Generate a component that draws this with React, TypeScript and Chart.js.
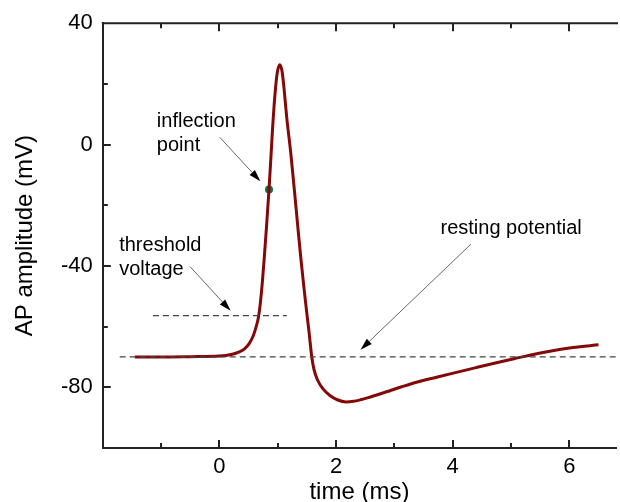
import React, { useEffect, useRef } from 'react';
import { Chart, registerables } from 'chart.js';

Chart.register(...registerables);

// ---- data ----
const timeMs = [
  -1.45, -1.0, -0.5, 0.0, 0.2, 0.33, 0.43, 0.51, 0.58, 0.63, 0.67, 0.70, 0.735, 0.77, 0.81, 0.85,
  0.885, 0.915, 0.95, 0.99, 1.035, 1.075, 1.11, 1.155, 1.22, 1.285, 1.34, 1.395, 1.455, 1.5, 1.54,
  1.58, 1.62, 1.68, 1.78, 1.9, 2.02, 2.17, 2.3, 2.42, 2.55, 2.83, 3.28, 3.74, 4.1, 4.4, 4.75, 5.05,
  5.55, 6.06, 6.5,
];
const apMv = [
  -70.0, -70.0, -69.9, -69.7, -69.2, -68.4, -67.3, -65.6, -63.0, -60.0, -56.8, -52.5, -45.5, -37.0,
  -26.3, -14.8, -3.5, 6.5, 16.0, 23.5, 26.3, 24.0, 18.0, 8.7, -2.2, -15.0, -26.3, -37.3, -48.2,
  -55.8, -62.4, -69.5, -74.0, -77.5, -80.6, -82.8, -84.1, -84.8, -84.6, -84.1, -83.4, -81.7, -78.9,
  -76.6, -74.9, -73.5, -71.9, -70.6, -68.5, -66.9, -66.0,
];
const restingX = [-1.71, 6.8];
const restingY = [-70, -70];
const thresholdX = [-1.14, 1.155];
const thresholdY = [-56.4, -56.4];
const inflectionX = [0.85];
const inflectionY = [-14.8];

const xTickValues = [-2, -1, 0, 1, 2, 3, 4, 5, 6];
const xTickLabels = ['', '', '0', '', '2', '', '4', '', '6'];
const yTickValues = [-100, -80, -60, -40, -20, 0, 20, 40];
const yTickLabels = ['', '-80', '', '-40', '', '0', '', '40'];

const noteTexts = [['inflection', 'point'], ['threshold', 'voltage'], ['resting potential']];
const noteX = [-1.073, -1.719, 3.791];
const noteY = [5.7, -35.06, -29.57];
const arrowFromX = [0.005, -0.505, 4.313];
const arrowFromY = [2.4, -40.2, -32.8];
const arrowToX = [0.702, 0.192, 2.42];
const arrowToY = [-12.1, -54.8, -67.6];

const FONT = '"Liberation Sans", Arial, sans-serif';

const framePlugin = {
  id: 'framePlugin',
  afterDatasetsDraw(chart: any) {
    const { ctx, chartArea, scales } = chart;
    const { left, right, top, bottom } = chartArea;
    const xs = scales.x;
    const ys = scales.y;
    ctx.save();
    // top frame line
    ctx.strokeStyle = '#222';
    ctx.lineWidth = 2;
    ctx.beginPath();
    ctx.moveTo(left - 1, top);
    ctx.lineTo(right + 2, top);
    ctx.stroke();
    // inward ticks
    ctx.lineWidth = 2;
    xTickValues.forEach((v, i) => {
      if (v <= xs.min || v >= xs.max) return;
      const px = Math.round(xs.getPixelForValue(v));
      const len = xTickLabels[i] ? 8 : 5;
      ctx.beginPath();
      ctx.moveTo(px, bottom);
      ctx.lineTo(px, bottom - len);
      ctx.moveTo(px, top);
      ctx.lineTo(px, top + len);
      ctx.stroke();
    });
    yTickValues.forEach((v, i) => {
      if (v <= ys.min || v >= ys.max) return;
      const py = Math.round(ys.getPixelForValue(v));
      const len = yTickLabels[i] ? 8 : 5;
      ctx.beginPath();
      ctx.moveTo(left, py);
      ctx.lineTo(left + len, py);
      ctx.stroke();
    });
    // arrows
    for (let i = 0; i < arrowFromX.length; i++) {
      const x0 = xs.getPixelForValue(arrowFromX[i]);
      const y0 = ys.getPixelForValue(arrowFromY[i]);
      const x1 = xs.getPixelForValue(arrowToX[i]);
      const y1 = ys.getPixelForValue(arrowToY[i]);
      const ang = Math.atan2(y1 - y0, x1 - x0);
      const headLen = 12;
      const headW = 3.6;
      const bx = x1 - headLen * Math.cos(ang);
      const by = y1 - headLen * Math.sin(ang);
      ctx.strokeStyle = '#666';
      ctx.lineWidth = 1;
      ctx.beginPath();
      ctx.moveTo(x0, y0);
      ctx.lineTo(bx, by);
      ctx.stroke();
      ctx.fillStyle = '#000';
      ctx.beginPath();
      ctx.moveTo(x1, y1);
      ctx.lineTo(bx + headW * Math.sin(ang), by - headW * Math.cos(ang));
      ctx.lineTo(bx - headW * Math.sin(ang), by + headW * Math.cos(ang));
      ctx.closePath();
      ctx.fill();
    }
    // notes
    ctx.fillStyle = '#000';
    ctx.font = `20px ${FONT}`;
    ctx.textAlign = 'left';
    ctx.textBaseline = 'alphabetic';
    noteTexts.forEach((lines, i) => {
      const px = xs.getPixelForValue(noteX[i]);
      const py = ys.getPixelForValue(noteY[i]);
      lines.forEach((t, j) => ctx.fillText(t, px, py + j * 24));
    });
    ctx.restore();
  },
};

export default function App() {
  const ref = useRef<HTMLCanvasElement | null>(null);
  useEffect(() => {
    document.body.style.margin = '0';
    const canvas = ref.current;
    if (!canvas) return;
    const chart = new Chart(canvas, {
      type: 'scatter',
      data: {
        datasets: [
          {
            label: 'resting',
            data: restingX.map((x, i) => ({ x, y: restingY[i] })),
            showLine: true,
            borderColor: '#444',
            borderWidth: 1.3,
            borderDash: [6, 4],
            pointRadius: 0,
          },
          {
            label: 'threshold',
            data: thresholdX.map((x, i) => ({ x, y: thresholdY[i] })),
            showLine: true,
            borderColor: '#444',
            borderWidth: 1.3,
            borderDash: [6, 4],
            pointRadius: 0,
          },
          {
            label: 'AP',
            data: timeMs.map((x, i) => ({ x, y: apMv[i] })),
            showLine: true,
            borderColor: '#850808',
            borderWidth: 3,
            pointRadius: 0,
            cubicInterpolationMode: 'monotone',
          },
          {
            label: 'inflection point',
            data: inflectionX.map((x, i) => ({ x, y: inflectionY[i] })),
            showLine: false,
            pointRadius: 4,
            pointBackgroundColor: '#12704a',
            pointBorderColor: '#12704a',
            pointBorderWidth: 0,
          },
        ],
      },
      options: {
        responsive: false,
        animation: false,
        devicePixelRatio: 1,
        layout: { padding: { top: 21.6, right: 0, bottom: 0, left: 0 } },
        plugins: { legend: { display: false }, tooltip: { enabled: false } },
        scales: {
          x: {
            type: 'linear',
            min: -2,
            max: 6.8,
            afterFit: (s: any) => {
              s.height = 54;
            },
            afterBuildTicks: (s: any) => {
              s.ticks = xTickValues.map((v) => ({ value: v }));
            },
            grid: { display: true, drawOnChartArea: false, drawTicks: false },
            border: { display: true, color: '#222', width: 2 },
            ticks: {
              padding: 6,
              color: '#000',
              font: { family: FONT, size: 22 },
              autoSkip: false,
              maxRotation: 0,
              callback: (v: any) => {
                const i = xTickValues.indexOf(Number(v));
                return i >= 0 ? xTickLabels[i] : '';
              },
            },
            title: {
              display: true,
              text: 'time (ms)',
              color: '#000',
              font: { family: FONT, size: 24, lineHeight: 1 },
              padding: { top: 0, bottom: -2 },
            },
          },
          y: {
            type: 'linear',
            min: -100,
            max: 40,
            afterFit: (s: any) => {
              s.width = 102.8;
            },
            afterBuildTicks: (s: any) => {
              s.ticks = yTickValues.map((v) => ({ value: v }));
            },
            grid: { display: true, drawOnChartArea: false, drawTicks: false },
            border: { display: true, color: '#222', width: 2 },
            ticks: {
              padding: 10,
              color: '#000',
              font: { family: FONT, size: 22 },
              autoSkip: false,
              callback: (v: any) => {
                const i = yTickValues.indexOf(Number(v));
                return i >= 0 ? yTickLabels[i] : '';
              },
            },
            title: {
              display: true,
              text: 'AP amplitude (mV)',
              color: '#000',
              font: { family: FONT, size: 24, lineHeight: 1 },
              padding: { top: 13, bottom: 0 },
            },
          },
        },
      },
      plugins: [framePlugin],
    } as any);
    return () => chart.destroy();
  }, []);
  return (
    <div style={{ width: 620, height: 502, overflow: 'hidden' }}>
      <canvas ref={ref} width={620} height={502} style={{ display: 'block' }} />
    </div>
  );
}
